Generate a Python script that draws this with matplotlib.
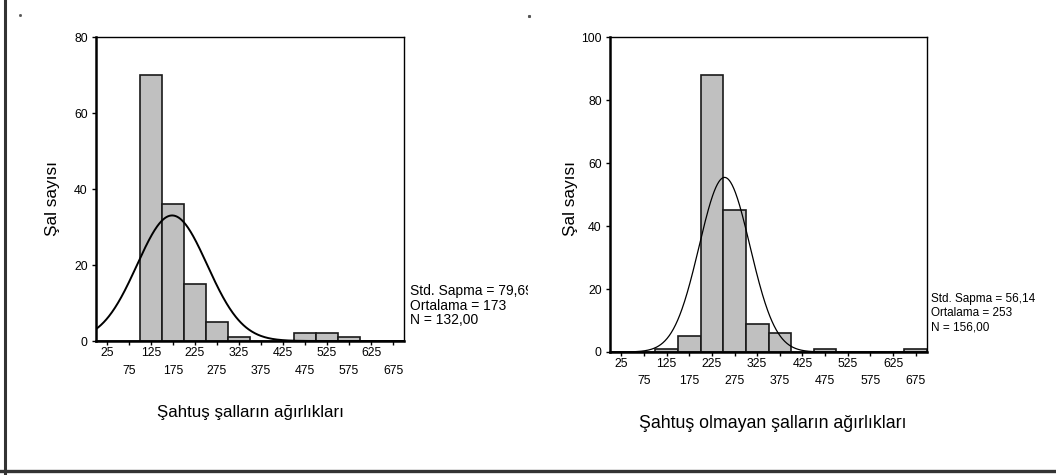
import numpy as np
import matplotlib
matplotlib.use("Agg")
import matplotlib.pyplot as plt
from matplotlib.lines import Line2D
from matplotlib.transforms import Bbox

plt.rcParams['font.family'] = ['Liberation Sans', 'DejaVu Sans']

# ---- data ----
bin_centers = [25, 75, 125, 175, 225, 275, 325, 375, 425, 475, 525, 575, 625, 675]
bin_width = 50
counts_sahtus = [0, 0, 70, 36, 15, 5, 1, 0, 0, 2, 2, 1, 0, 0]
counts_other = [0, 0, 1, 5, 88, 45, 9, 6, 0, 1, 0, 0, 0, 1]
stats_sahtus = dict(sd=79.69, mean=173, n=132)
stats_other = dict(sd=56.14, mean=253, n=156)
ylabel = "Şal sayısı"
xlabel_sahtus = "Şahtuş şalların ağırlıkları"
xlabel_other = "Şahtuş olmayan şalların ağırlıkları"
stat_lines_sahtus = ["Std. Sapma = 79,69", "Ortalama = 173", "N = 132,00"]
stat_lines_other = ["Std. Sapma = 56,14", "Ortalama = 253", "N = 156,00"]
yticks_sahtus = [0, 20, 40, 60, 80]
yticks_other = [0, 20, 40, 60, 80, 100]

W, H = 1056, 475
fig = plt.figure(figsize=(W / 100, H / 100), dpi=100)


def px_axes(x0, y0, x1, y1):
    return fig.add_axes([x0 / W, 1 - y1 / H, (x1 - x0) / W, (y1 - y0) / H])


def ftext(x, y, s, **kw):
    return fig.text(x / W, 1 - y / H, s, **kw)


def draw_panel(ax, counts, stats, yticks, curve_lw, minor_pad):
    ax.bar(bin_centers, counts, width=bin_width, color="#c0c0c0",
           edgecolor="#1a1a1a", linewidth=1.2, zorder=2)
    xs = np.linspace(0, 700, 600)
    ys = stats['n'] * bin_width / (stats['sd'] * np.sqrt(2 * np.pi)) * \
        np.exp(-0.5 * ((xs - stats['mean']) / stats['sd']) ** 2)
    ax.plot(xs, ys, color="black", linewidth=curve_lw, zorder=3)
    ax.set_xlim(0, 700)
    ax.set_ylim(0, yticks[-1])
    ax.set_yticks(yticks)
    ax.set_yticklabels([str(v) for v in yticks], fontsize=8.8)
    major = bin_centers[0::2]
    minor = bin_centers[1::2]
    ax.set_xticks(major)
    ax.set_xticklabels([str(v) for v in major], fontsize=8.8)
    ax.set_xticks(minor, minor=True)
    ax.set_xticklabels([str(v) for v in minor], minor=True, fontsize=8.8)
    ax.tick_params(axis='x', which='major', length=3, width=1, pad=1, direction='out')
    ax.tick_params(axis='x', which='minor', length=3, width=1, pad=minor_pad, direction='out')
    ax.tick_params(axis='y', length=3, width=1, pad=3, direction='out')
    ax.spines['left'].set_linewidth(1.8)
    ax.spines['bottom'].set_linewidth(1.8)
    ax.spines['top'].set_linewidth(1.0)
    ax.spines['right'].set_linewidth(1.0)


ax1 = px_axes(96, 37, 404, 341)
draw_panel(ax1, counts_sahtus, stats_sahtus, yticks_sahtus, 1.4, 14.5)
ax2 = px_axes(610, 37, 927, 352)
draw_panel(ax2, counts_other, stats_other, yticks_other, 0.9, 13.3)

# axis titles
ftext(52, 199, ylabel, rotation=90, ha='center', va='center', fontsize=12.4)
ftext(570, 199, ylabel, rotation=90, ha='center', va='center', fontsize=12.4)
ftext(250, 412, xlabel_sahtus, ha='center', va='center', fontsize=12.2)
ftext(773, 423, xlabel_other, ha='center', va='center', fontsize=12.8)

# stats annotations
clip = Bbox([[0, 0], [528, H]])
for i, s in enumerate(stat_lines_sahtus):
    t = ftext(410, 291 + 14.5 * i, s, ha='left', va='center', fontsize=10)
    t.set_clip_on(True)
    t.set_clip_box(clip)
for i, s in enumerate(stat_lines_other):
    ftext(931, 299 + 14 * i, s, ha='left', va='center', fontsize=8.5)

# outer frame (left and bottom) and small dots
fig.add_artist(Line2D([4.5 / W, 4.5 / W], [0, 1], transform=fig.transFigure,
                      color="#333333", linewidth=2.2))
fig.add_artist(Line2D([0, 1], [1 - 471 / H, 1 - 471 / H], transform=fig.transFigure,
                      color="#333333", linewidth=2.4))
fig.add_artist(Line2D([20 / W], [1 - 15 / H], transform=fig.transFigure,
                      marker='s', markersize=1, color="#555555", linestyle='none'))
fig.add_artist(Line2D([528.5 / W], [1 - 15.5 / H], transform=fig.transFigure,
                      marker='s', markersize=1.2, color="#555555", linestyle='none'))

fig.savefig("out.png", dpi=100)
